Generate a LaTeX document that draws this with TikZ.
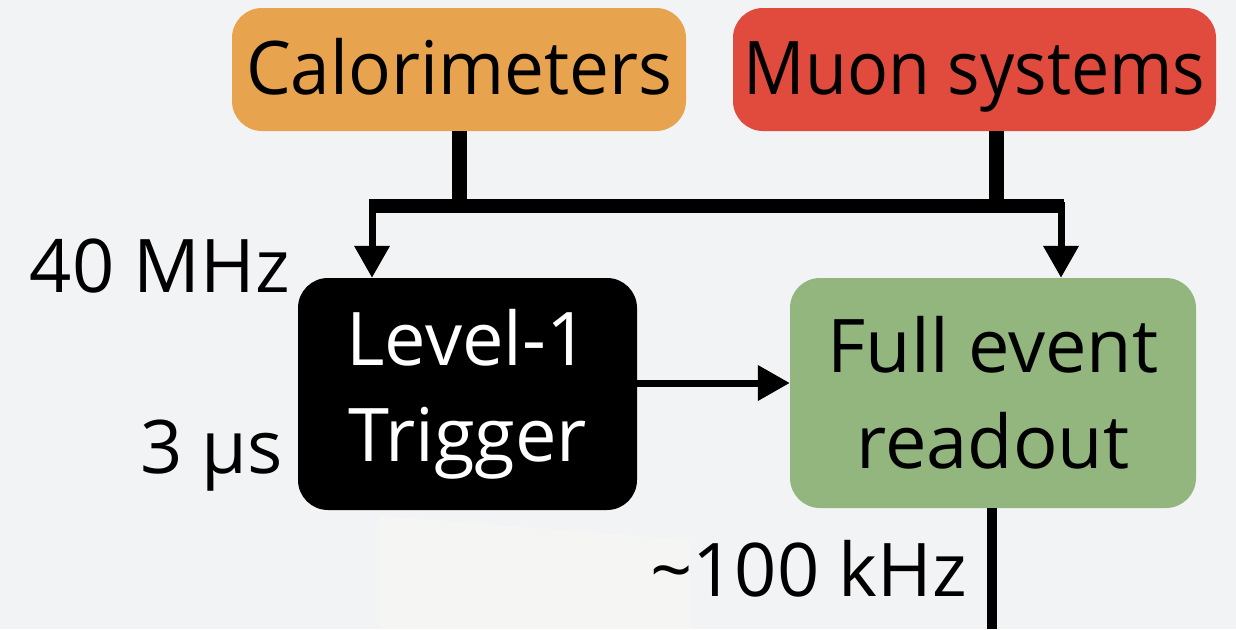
\documentclass[tikz,border=0pt]{standalone}
\usepackage{fontspec}
\setmainfont{Open Sans}
\newfontfamily\caloface[FakeStretch=0.96]{Open Sans}
\newfontfamily\muonface[FakeStretch=0.92]{Open Sans}
\usetikzlibrary{arrows.meta}

\definecolor{bgcol}{HTML}{F2F3F4}
\definecolor{bglight}{HTML}{F5F5F3}
\definecolor{calocol}{HTML}{E7A34E}
\definecolor{muoncol}{HTML}{E04B3D}
\definecolor{readcol}{HTML}{93B67F}

\tikzset{
  box/.style={rounded corners=30pt, inner sep=0pt, align=center,
    font=\fontsize{74}{96}\selectfont},
  onebox/.style={box, text height=49pt, text depth=0pt},
  lbl/.style={inner sep=0pt, font=\fontsize{74}{96}\selectfont},
  stub/.style={line width=15pt},
  bus/.style={line width=14pt},
  feed/.style={line width=7pt, -{Triangle[width=34pt,length=32pt]}},
  outline/.style={line width=10pt},
}

\begin{document}
\begin{tikzpicture}[x=1pt, y=-1pt]
  % page and faint backdrop
  \fill[bgcol] (0,0) rectangle (1236,629);
  \useasboundingbox (0,0) rectangle (1236,629);
  \fill[bglight] (380,516) -- (690,540) -- (690,629) -- (380,629) -- cycle;

  % detector sources
  \node[onebox, fill=calocol, minimum width=454pt, minimum height=123pt]
    (cal) at (459,69.5) {\caloface Calorimeters};
  \node[onebox, fill=muoncol, minimum width=483pt, minimum height=123pt]
    (muon) at (974.5,69.5) {\muonface Muon systems};

  % trigger and readout
  \node[box, fill=black, text=white, minimum width=339pt, minimum height=232pt]
    (l1) at (467.5,394) {\raisebox{-3pt}{Level-1}\\\raisebox{-3pt}{Trigger}};
  \node[box, fill=readcol, minimum width=406pt, minimum height=230pt]
    (full) at (993,393) {Full event\\readout};

  % shared bus
  \coordinate (busL) at (369,206);
  \coordinate (busR) at (1064,206);
  \coordinate (mstub) at (996,206);
  \coordinate (dropL) at (372,202);
  \coordinate (dropR) at (1061,202);
  \coordinate (l1out) at (637,383);
  \coordinate (outEnd) at (992,629);

  \draw[stub] (cal.south) -- (cal.south |- busL);
  \draw[stub] (mstub |- muon.south) -- (mstub);
  \draw[bus] (busL) -- (busR);
  \draw[feed] (dropL) -- (dropL |- l1.north);
  \draw[feed] (dropR) -- (dropR |- full.north);
  \draw[feed] (l1out) -- (l1out -| full.west);
  \draw[outline] (outEnd |- full.south) -- (outEnd);

  % rates and latency
  \node[lbl, anchor=base east] (rate40) at (290,292) {40 MHz};
  \node[lbl, anchor=base east] (lat) at (283,473) {3 μs};
  \node[lbl, anchor=base east] (rate100) at (967,596) {\textasciitilde100 kHz};
\end{tikzpicture}
\end{document}
